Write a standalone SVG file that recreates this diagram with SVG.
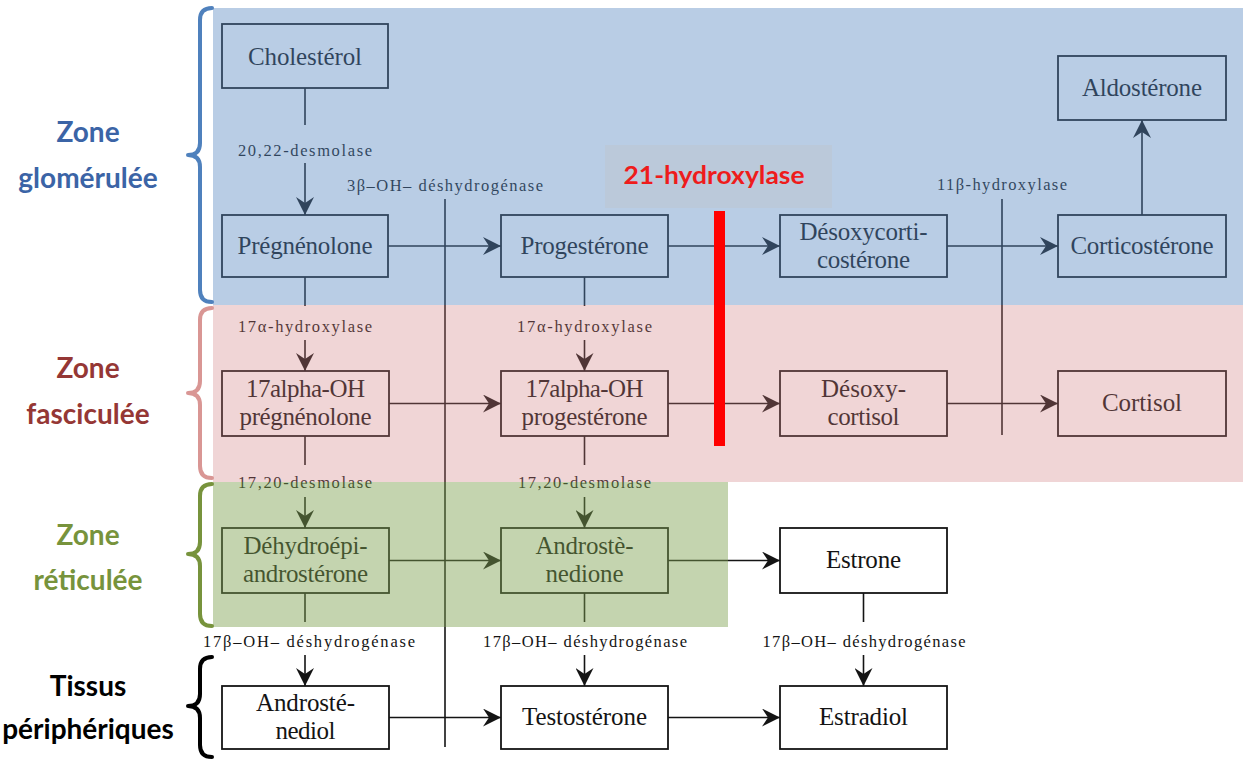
<svg xmlns="http://www.w3.org/2000/svg" width="1247" height="760" viewBox="0 0 1247 760">
<defs>
<style>
.box{fill:none;stroke:#141414;stroke-width:1.8}
.nt{font-family:"Liberation Serif","Times New Roman",serif;font-size:25px;fill:#141414;text-anchor:middle}
.en{font-family:"Liberation Serif","Times New Roman",serif;font-size:16.5px;fill:#141414;text-anchor:middle}
.ln{stroke:#141414;stroke-width:1.6;fill:none}
.ar{stroke:#141414;stroke-width:1.6;fill:none;marker-end:url(#arr)}
.zl{font-family:Lato,"Liberation Sans",sans-serif;font-weight:bold;font-size:28px;text-anchor:middle}
.br{fill:none;stroke-width:4;stroke-linecap:round;stroke-linejoin:round}
</style>
<marker id="arr" viewBox="0 0 18 18" refX="18" refY="9" markerWidth="18" markerHeight="18" markerUnits="userSpaceOnUse" orient="auto">
<path d="M0,0 L18,9 L0,18 L6,9 Z" fill="#141414"/>
</marker>
</defs>
<rect x="0" y="0" width="1247" height="760" fill="#ffffff"/>

<g id="connectors">
<line class="ln" x1="305" y1="88" x2="305" y2="125"/>
<line class="ar" x1="305" y1="163" x2="305" y2="215"/>
<line class="ln" x1="305" y1="277" x2="305" y2="306"/>
<line class="ar" x1="305" y1="340" x2="305" y2="371"/>
<line class="ln" x1="584.5" y1="277" x2="584.5" y2="306"/>
<line class="ar" x1="584.5" y1="340" x2="584.5" y2="371"/>
<line class="ln" x1="305" y1="436" x2="305" y2="465"/>
<line class="ar" x1="305" y1="497" x2="305" y2="528"/>
<line class="ln" x1="584.5" y1="436" x2="584.5" y2="465"/>
<line class="ar" x1="584.5" y1="497" x2="584.5" y2="528"/>
<line class="ln" x1="305" y1="593" x2="305" y2="622"/>
<line class="ar" x1="305" y1="655" x2="305" y2="686"/>
<line class="ln" x1="584.5" y1="593" x2="584.5" y2="622"/>
<line class="ar" x1="584.5" y1="655" x2="584.5" y2="686"/>
<line class="ln" x1="863.5" y1="593" x2="863.5" y2="622"/>
<line class="ar" x1="863.5" y1="655" x2="863.5" y2="686"/>
<line class="ar" x1="1142" y1="215" x2="1142" y2="120"/>
<line class="ar" x1="388" y1="246" x2="501" y2="246"/>
<line class="ar" x1="668" y1="246" x2="780" y2="246"/>
<line class="ar" x1="947" y1="246" x2="1058" y2="246"/>
<line class="ar" x1="389" y1="403.5" x2="501" y2="403.5"/>
<line class="ar" x1="668" y1="403.5" x2="780" y2="403.5"/>
<line class="ar" x1="947" y1="403.5" x2="1058" y2="403.5"/>
<line class="ar" x1="389" y1="560.5" x2="501" y2="560.5"/>
<line class="ar" x1="668" y1="560.5" x2="780" y2="560.5"/>
<line class="ar" x1="389" y1="717.5" x2="501" y2="717.5"/>
<line class="ar" x1="668" y1="717.5" x2="780" y2="717.5"/>
<line class="ln" x1="445" y1="199" x2="445" y2="747"/>
<line class="ln" x1="1002" y1="199" x2="1002" y2="435"/>
</g>

<g id="enzyme-labels">
<text class="en" x="305" y="156" textLength="134" lengthAdjust="spacing">20,22-desmolase</text>
<text class="en" x="445" y="191" textLength="196" lengthAdjust="spacing">3β–OH– déshydrogénase</text>
<text class="en" x="1002" y="190" textLength="130" lengthAdjust="spacing">11β-hydroxylase</text>
<text class="en" x="305" y="332" textLength="134" lengthAdjust="spacing">17α-hydroxylase</text>
<text class="en" x="584.5" y="332" textLength="135" lengthAdjust="spacing">17α-hydroxylase</text>
<text class="en" x="305" y="488" textLength="134" lengthAdjust="spacing">17,20-desmolase</text>
<text class="en" x="584.5" y="488" textLength="133" lengthAdjust="spacing">17,20-desmolase</text>
<text class="en" x="309" y="647" textLength="212" lengthAdjust="spacing">17β–OH– déshydrogénase</text>
<text class="en" x="585" y="647" textLength="204" lengthAdjust="spacing">17β–OH– déshydrogénase</text>
<text class="en" x="864" y="647" textLength="203" lengthAdjust="spacing">17β–OH– déshydrogénase</text>
</g>

<g id="cholesterol"><rect class="box" x="222" y="24" width="166" height="64"/><text class="nt" x="305" y="65" textLength="114" lengthAdjust="spacing">Cholestérol</text></g>
<g id="pregnenolone"><rect class="box" x="222" y="215" width="166" height="62"/><text class="nt" x="305" y="254" textLength="135" lengthAdjust="spacing">Prégnénolone</text></g>
<g id="progesterone"><rect class="box" x="501" y="215" width="167" height="62"/><text class="nt" x="584.5" y="254" textLength="128" lengthAdjust="spacing">Progestérone</text></g>
<g id="desoxycorticosterone"><rect class="box" x="780" y="215" width="167" height="62"/><text class="nt" x="863.5" y="240" textLength="128" lengthAdjust="spacing">Désoxycorti-</text><text class="nt" x="863.5" y="268" textLength="93" lengthAdjust="spacing">costérone</text></g>
<g id="corticosterone"><rect class="box" x="1058" y="215" width="168" height="62"/><text class="nt" x="1142" y="254" textLength="143" lengthAdjust="spacing">Corticostérone</text></g>
<g id="aldosterone"><rect class="box" x="1058" y="56" width="168" height="64"/><text class="nt" x="1142" y="96" textLength="120" lengthAdjust="spacing">Aldostérone</text></g>
<g id="oh-pregnenolone"><rect class="box" x="222" y="371" width="167" height="65"/><text class="nt" x="305.5" y="397" textLength="119" lengthAdjust="spacing">17alpha-OH</text><text class="nt" x="305.5" y="425" textLength="132" lengthAdjust="spacing">prégnénolone</text></g>
<g id="oh-progesterone"><rect class="box" x="501" y="371" width="167" height="65"/><text class="nt" x="584.5" y="397" textLength="118" lengthAdjust="spacing">17alpha-OH</text><text class="nt" x="584.5" y="425" textLength="126" lengthAdjust="spacing">progestérone</text></g>
<g id="desoxycortisol"><rect class="box" x="780" y="371" width="167" height="65"/><text class="nt" x="863.5" y="397" textLength="85" lengthAdjust="spacing">Désoxy-</text><text class="nt" x="863.5" y="425" textLength="72" lengthAdjust="spacing">cortisol</text></g>
<g id="cortisol"><rect class="box" x="1058" y="371" width="168" height="65"/><text class="nt" x="1142" y="411" textLength="80" lengthAdjust="spacing">Cortisol</text></g>
<g id="dhea"><rect class="box" x="222" y="528" width="167" height="65"/><text class="nt" x="305.5" y="554" textLength="124" lengthAdjust="spacing">Déhydroépi-</text><text class="nt" x="305.5" y="582" textLength="125" lengthAdjust="spacing">androstérone</text></g>
<g id="androstenedione"><rect class="box" x="501" y="528" width="167" height="65"/><text class="nt" x="584.5" y="554" textLength="98" lengthAdjust="spacing">Androstè-</text><text class="nt" x="584.5" y="582" textLength="78" lengthAdjust="spacing">nedione</text></g>
<g id="estrone"><rect class="box" x="780" y="528" width="167" height="65"/><text class="nt" x="863.5" y="568" textLength="75" lengthAdjust="spacing">Estrone</text></g>
<g id="androstenediol"><rect class="box" x="222" y="686" width="167" height="63"/><text class="nt" x="305.5" y="711" textLength="99" lengthAdjust="spacing">Androsté-</text><text class="nt" x="305.5" y="739" textLength="60" lengthAdjust="spacing">nediol</text></g>
<g id="testosterone"><rect class="box" x="501" y="686" width="167" height="63"/><text class="nt" x="584.5" y="725" textLength="125" lengthAdjust="spacing">Testostérone</text></g>
<g id="estradiol"><rect class="box" x="780" y="686" width="167" height="63"/><text class="nt" x="863.5" y="725" textLength="89" lengthAdjust="spacing">Estradiol</text></g>

<g id="zone-tint" pointer-events="none">
<rect x="213" y="8" width="1030" height="297" fill="#5888C1" fill-opacity="0.42"/>
<rect x="213" y="305" width="1030" height="177" fill="#D07C7F" fill-opacity="0.32"/>
<rect x="213" y="482" width="515" height="145" fill="#7EA150" fill-opacity="0.46"/>
</g>

<g id="block-21-hydroxylase">
<rect x="605" y="145" width="227" height="63" fill="#c0c0c0" fill-opacity="0.3"/>
<text x="714" y="184" font-family="Lato,'Liberation Sans',sans-serif" font-weight="bold" font-size="24" fill="#ee1c1c" text-anchor="middle" textLength="181" lengthAdjust="spacingAndGlyphs">21-hydroxylase</text>
<rect x="714" y="211" width="11" height="235" fill="#ff0000"/>
</g>

<g id="zone-glomerulee">
<path class="br" stroke="#4f81bd" d="M212,8 Q200,8 200,20 L200,143 Q200,155 188,155 Q200,155 200,167 L200,290 Q200,302 212,302"/>
<text class="zl" fill="#3b64a6" x="88" y="142">Zone</text>
<text class="zl" fill="#3b64a6" x="88" y="188">glomérulée</text>
</g>
<g id="zone-fasciculee">
<path class="br" stroke="#d99694" d="M212,308 Q200,308 200,320 L200,381 Q200,393 188,393 Q200,393 200,405 L200,466 Q200,478 212,478"/>
<text class="zl" fill="#953735" x="88" y="378">Zone</text>
<text class="zl" fill="#953735" x="88" y="424">fasciculée</text>
</g>
<g id="zone-reticulee">
<path class="br" stroke="#77933c" d="M212,484 Q200,484 200,496 L200,542 Q200,554 188,554 Q200,554 200,566 L200,614 Q200,626 212,626"/>
<text class="zl" fill="#77933c" x="88" y="545">Zone</text>
<text class="zl" fill="#77933c" x="88" y="590">réticulée</text>
</g>
<g id="tissus-peripheriques">
<path class="br" stroke="#000000" d="M212,657 Q200,657 200,669 L200,694 Q200,706 188,706 Q200,706 200,718 L200,745 Q200,757 212,757"/>
<text class="zl" fill="#000000" x="88" y="696">Tissus</text>
<text class="zl" fill="#000000" x="88" y="739">périphériques</text>
</g>
</svg>
